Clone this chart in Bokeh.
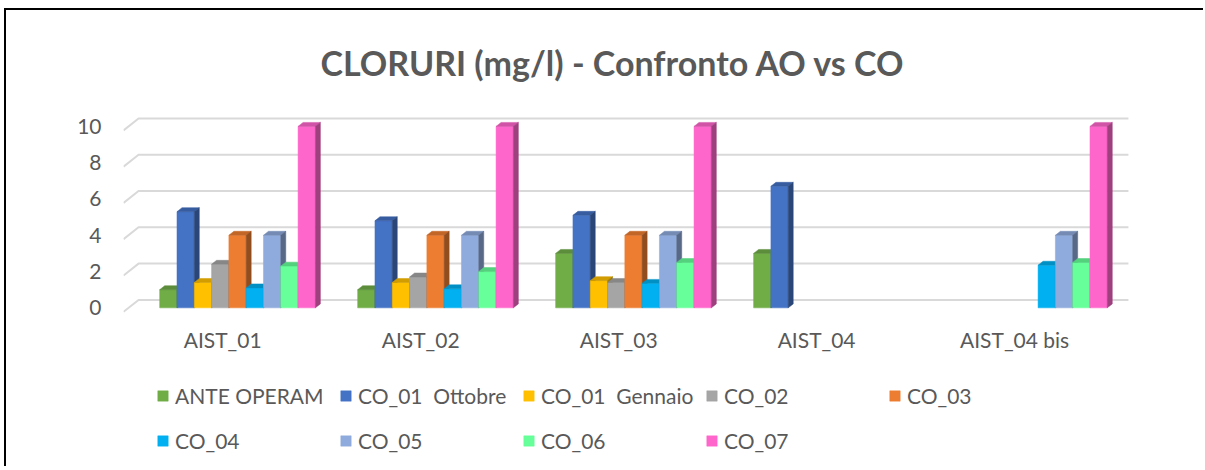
from bokeh.plotting import figure
from bokeh.models import Range1d, FixedTicker, Legend, LegendItem, ColumnDataSource
from bokeh.embed import file_html
from bokeh.resources import INLINE

# ---------------- data ----------------
title_text = "CLORURI (mg/l) - Confronto AO vs CO"
categories = ["AIST_01", "AIST_02", "AIST_03", "AIST_04", "AIST_04 bis"]
series_names = ["ANTE OPERAM", "CO_01  Ottobre", "CO_01  Gennaio", "CO_02", "CO_03",
                "CO_04", "CO_05", "CO_06", "CO_07"]
ante_operam = [1.0, 1.0, 3.0, 3.0, None]
co01_ottobre = [5.3, 4.8, 5.1, 6.7, None]
co01_gennaio = [1.4, 1.4, 1.5, None, None]
co02 = [2.4, 1.7, 1.4, None, None]
co03 = [4.0, 4.0, 4.0, None, None]
co04 = [1.1, 1.05, 1.35, None, 2.35]
co05 = [4.0, 4.0, 4.0, None, 4.0]
co06 = [2.3, 2.0, 2.5, None, 2.5]
co07 = [10.0, 10.0, 10.0, None, 10.0]
series_values = [ante_operam, co01_ottobre, co01_gennaio, co02, co03, co04, co05, co06, co07]
y_ticks = [0, 2, 4, 6, 8, 10]

front_colors = ["#70AD47", "#4472C4", "#FFC000", "#A5A5A5", "#ED7D31",
                "#00B0F0", "#8FAADC", "#66FF99", "#FF66CC"]


def shade(hex_color, f):
    r, g, b = (int(hex_color[i:i + 2], 16) for i in (1, 3, 5))
    return "#%02x%02x%02x" % (int(r * f), int(g * f), int(b * f))


# ---------------- layout constants (styling) ----------------
PX_X = 198.0          # pixels per category unit
PX_Y = 18.3           # pixels per value unit
BAR_W = 17.3 / PX_X   # bar width in category units
DX = 5 / PX_X         # 3D depth offset
DY = 4 / PX_Y
BACK_DY = 8 / PX_Y    # back wall offset
FRONT_DY = -4 / PX_Y  # front floor offset
FLOOR = -0.437        # where the category axis sits
LABEL_SHIFT = 0.075
FONT = "Lato"
TXT = "#595959"

p = figure(width=1199, height=458,
           x_range=Range1d(-0.576, 4.561), y_range=Range1d(-8.743, 10.82),
           output_backend="svg", toolbar_location=None,
           min_border_left=117, min_border_right=65,
           min_border_top=98, min_border_bottom=2)
p.outline_line_color = None
p.xgrid.visible = False
p.ygrid.visible = False
p.styles = {"margin-left": "6px", "margin-top": "10px",
            "box-shadow": "-2px -2px 0px 0px #000000"}

# title
p.title.text = title_text
p.title.text_font = FONT
p.title.text_font_style = "bold"
p.title.text_font_size = "34px"
p.title.text_color = TXT
p.title.align = "left"
p.title.offset = 197
p.title.standoff = 58

# gridlines (back wall + floor slant)
n_cat = len(categories)
g_xs = [[-0.576, -0.5, n_cat - 0.5] for v in y_ticks]
g_ys = [[v + FRONT_DY, v + BACK_DY, v + BACK_DY] for v in y_ticks]
p.multi_line(xs=g_xs, ys=g_ys, line_color="#D9D9D9", line_width=2)

# bars
legend_items = []
n_ser = len(series_values)
for j, (name, vals, col) in enumerate(zip(series_names, series_values, front_colors)):
    left, right, top = [], [], []
    top_xs, top_ys, side_xs, side_ys = [], [], [], []
    for i, v in enumerate(vals):
        if v is None:
            continue
        l = i - n_ser * BAR_W / 2 + j * BAR_W
        r = l + BAR_W
        left.append(l); right.append(r); top.append(v)
        top_xs.append([l, r, r + DX, l + DX])
        top_ys.append([v, v, v + DY, v + DY])
        side_xs.append([r, r + DX, r + DX, r])
        side_ys.append([0, DY, v + DY, v])
    src = ColumnDataSource(dict(left=left, right=right, top=top, bottom=[0] * len(top)))
    rq = p.quad(left="left", right="right", top="top", bottom="bottom", source=src,
                fill_color=col, line_color=col, line_width=0.5)
    p.patches(xs=top_xs, ys=top_ys, fill_color=shade(col, 0.82), line_color=shade(col, 0.82), line_width=0.5)
    p.patches(xs=side_xs, ys=side_ys, fill_color=shade(col, 0.62), line_color=shade(col, 0.62), line_width=0.5)
    legend_items.append(LegendItem(label=name, renderers=[rq]))

# axes
x_ticks = [i - LABEL_SHIFT for i in range(n_cat)]
p.xaxis.ticker = FixedTicker(ticks=x_ticks)
p.xaxis.major_label_overrides = {t: c for t, c in zip(x_ticks, categories)}
p.xaxis.fixed_location = FLOOR
p.yaxis.ticker = FixedTicker(ticks=y_ticks)
for ax in (p.xaxis, p.yaxis):
    ax.axis_line_color = None
    ax.major_tick_line_color = None
    ax.minor_tick_line_color = None
    ax.major_label_text_font = FONT
    ax.major_label_text_font_size = "21px"
    ax.major_label_text_color = TXT
p.xaxis.major_label_standoff = 5
p.yaxis.major_label_standoff = 16

# legends (two rows)
def make_legend(items, loc):
    return Legend(items=items, orientation="horizontal", location=loc,
                  ncols=len(items), nrows=1,
                  glyph_width=13, glyph_height=13, label_standoff=6,
                  label_width=164, spacing=0, padding=0, margin=0,
                  border_line_color=None, background_fill_alpha=0,
                  label_text_font=FONT, label_text_font_size="21px",
                  label_text_color=TXT)

p.add_layout(make_legend(legend_items[:5], (33, 58)))
p.add_layout(make_legend(legend_items[5:], (33, 13)))

open("out.html", "w").write(file_html(p, INLINE))
